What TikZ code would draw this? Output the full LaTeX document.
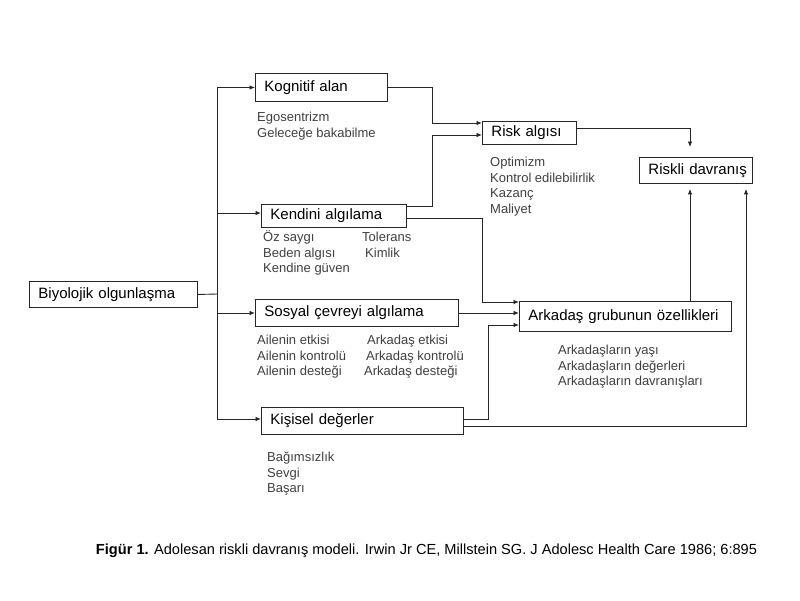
\documentclass[tikz,border=0pt]{standalone}
\usepackage{fontspec}
\setmainfont{Liberation Sans}
\usetikzlibrary{arrows.meta}
\begin{document}
\begin{tikzpicture}[x=1pt,y=-1pt,
  box/.style={draw=black!85, line width=0.9pt, anchor=north west, inner xsep=9pt, inner ysep=0pt, align=left, font=\fontsize{15}{18}\selectfont},
  sub/.style={anchor=base west, inner sep=0pt, text=black!75, font=\fontsize{13}{15.5}\selectfont},
  conn/.style={draw=black!85, line width=0.9pt},
  arr/.style={conn, -{Latex[length=5.5pt,width=4.5pt]}},
]
\useasboundingbox (0,0) rectangle (800,600);
\fill[white] (0,0) rectangle (800,600);

% boxes
\node[box, text width=150pt, minimum height=26pt] (bio) at (29,281) {\mbox{Biyolojik olgunlaşma}};
\node[box, text width=114pt, minimum height=28pt] (kog) at (255,73) {\mbox{Kognitif alan}};
\node[box, text width=127pt, minimum height=23pt] (kend) at (261,204) {\mbox{Kendini algılama}};
\node[box, text width=185pt, minimum height=27pt] (sos) at (255,299) {\mbox{Sosyal çevreyi algılama}};
\node[box, text width=184pt, minimum height=27pt] (kis) at (261,407) {\mbox{Kişisel değerler}};
\node[box, text width=76pt, minimum height=23pt] (risk) at (482,121) {\mbox{Risk algısı}};
\node[box, text width=95pt, minimum height=26pt] (rd) at (639,157) {\mbox{Riskli davranış}};
\node[box, text width=194pt, minimum height=30pt] (ark) at (519,301) {\mbox{Arkadaş grubunun özellikleri}};

% helper coordinates
\coordinate (bus) at (217,294);
\coordinate (xk) at (432,0);
\coordinate (xa) at (482,0);
\coordinate (xb) at (488,0);
\coordinate (xq) at (690,0);
\coordinate (xr) at (746,0);
\coordinate (r1) at (0,123);
\coordinate (r2) at (0,135);
\coordinate (k1) at (0,206);
\coordinate (k2) at (0,218);
\coordinate (kn) at (0,213);
\coordinate (a1) at (0,302);
\coordinate (a2) at (0,313);
\coordinate (a3) at (0,325);
\coordinate (s1) at (0,419);
\coordinate (s2) at (0,426);
\coordinate (q1) at (0,128);

% distribution bus
\draw[conn] (bio.east) -- (bus);
\draw[conn] (bus |- kog.west) -- (bus |- s1);
\draw[arr] (bus |- kog.west) -- (kog.west);
\draw[arr] (bus |- kn) -- (kn -| kend.west);
\draw[arr] (bus |- a2) -- (a2 -| sos.west);
\draw[arr] (bus |- s1) -- (s1 -| kis.west);

% to risk perception
\draw[arr] (kog.east) -| (xk |- r1) -- (r1 -| risk.west);
\draw[arr] (k1 -| kend.east) -| (xk |- r2) -- (r2 -| risk.west);

% to peer group
\draw[arr] (k2 -| kend.east) -| (xa |- a1) -- (a1 -| ark.west);
\draw[arr] (a2 -| sos.east) -- (a2 -| ark.west);
\draw[arr] (s1 -| kis.east) -| (xb |- a3) -- (a3 -| ark.west);

% to risky behaviour
\draw[arr, shorten >=10pt] (q1 -| risk.east) -| (xq |- rd.north);
\draw[arr, shorten >=5pt] (xq |- ark.north) -- (xq |- rd.south);
\draw[arr, shorten >=5pt] (s2 -| kis.east) -| (xr |- rd.south);

% sub texts
\node[sub] (t1) at (257,121.5) {Egosentrizm};
\node[sub] (t2) at (257,137) {Geleceğe bakabilme};

\node[sub] (t3) at (490,166.5) {Optimizm};
\node[sub] (t4) at (490,182) {Kontrol edilebilirlik};
\node[sub] (t5) at (490,197.5) {Kazanç};
\node[sub] (t6) at (490,213) {Maliyet};

\node[sub] (t7) at (263,241.5) {Öz saygı};
\node[sub] (t8) at (263,257) {Beden algısı};
\node[sub] (t9) at (263,272.5) {Kendine güven};
\node[sub] (t10) at (362,241.5) {Tolerans};
\node[sub] (t11) at (365,257) {Kimlik};

\node[sub] (t12) at (257,344.5) {Ailenin etkisi};
\node[sub] (t13) at (257,360) {Ailenin kontrolü};
\node[sub] (t14) at (257,375.5) {Ailenin desteği};
\node[sub] (t15) at (367,344.5) {Arkadaş etkisi};
\node[sub] (t16) at (366,360) {Arkadaş kontrolü};
\node[sub] (t17) at (364,375.5) {Arkadaş desteği};

\node[sub] (t18) at (558,354.5) {Arkadaşların yaşı};
\node[sub] (t19) at (558,370) {Arkadaşların değerleri};
\node[sub] (t20) at (558,385.5) {Arkadaşların davranışları};

\node[sub] (t21) at (267,461.5) {Bağımsızlık};
\node[sub] (t22) at (267,477) {Sevgi};
\node[sub] (t23) at (267,492.5) {Başarı};

% caption
\node[inner sep=0pt, anchor=center] (cap) at (426.5,551) {\resizebox{661pt}{!}{\fontsize{12.5}{15}\selectfont\textbf{Figür 1.} Adolesan riskli davranış modeli. Irwin Jr CE, Millstein SG. J Adolesc Health Care 1986; 6:895}};
\end{tikzpicture}
\end{document}
